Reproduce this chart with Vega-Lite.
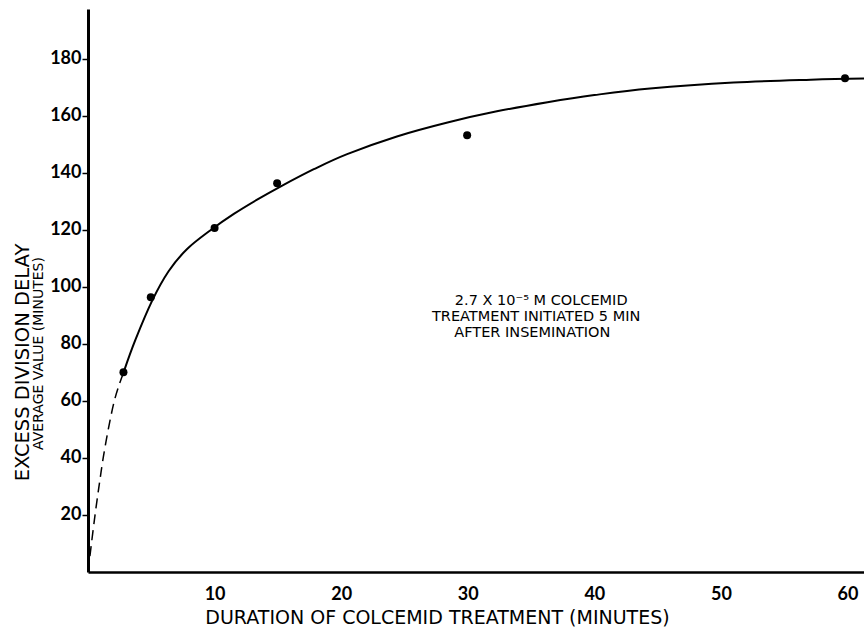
{
  "$schema": "https://vega.github.io/schema/vega-lite/v6.json",
  "width": 776,
  "height": 563,
  "autosize": "none",
  "padding": {"left": 88, "top": 9, "right": 0, "bottom": 56},
  "background": "white",
  "config": {
    "view": {"stroke": null},
    "font": "DejaVu Sans",
    "axis": {"grid": false, "labelColor": "black", "titleColor": "black", "domainColor": "black", "tickColor": "black", "labelFont": "Lato", "titleFont": "DejaVu Sans"}
  },
  "datasets": {
    "points": [
      {"t": 2.8, "delay": 70.1},
      {"t": 4.96, "delay": 96.4},
      {"t": 10, "delay": 120.7},
      {"t": 14.94, "delay": 136.4},
      {"t": 29.95, "delay": 153.2},
      {"t": 59.8, "delay": 173.2}
    ],
    "solid": [
      {"t": 2.83, "delay": 70.3},
      {"t": 3.75, "delay": 81.5},
      {"t": 5.07, "delay": 95.2},
      {"t": 6.38, "delay": 105.6},
      {"t": 7.83, "delay": 113.3},
      {"t": 9.68, "delay": 119.9},
      {"t": 11.52, "delay": 125.6},
      {"t": 13.36, "delay": 130.6},
      {"t": 15.2, "delay": 135.2},
      {"t": 17.84, "delay": 141.3},
      {"t": 20.47, "delay": 146.6},
      {"t": 24.4, "delay": 152.8},
      {"t": 28.4, "delay": 157.7},
      {"t": 32.3, "delay": 161.6},
      {"t": 36.3, "delay": 164.8},
      {"t": 40, "delay": 167.3},
      {"t": 44.4, "delay": 169.6},
      {"t": 51, "delay": 171.7},
      {"t": 57.1, "delay": 172.7},
      {"t": 61.3, "delay": 173.1}
    ],
    "dashed": [
      {"t": 0, "delay": 0},
      {"t": 0.3, "delay": 11},
      {"t": 0.6, "delay": 21.5},
      {"t": 0.9, "delay": 31},
      {"t": 1.2, "delay": 40},
      {"t": 1.6, "delay": 50},
      {"t": 2.05, "delay": 59.5},
      {"t": 2.45, "delay": 65.5},
      {"t": 2.83, "delay": 70.3}
    ],
    "notes": [
      {"t": 35.8, "delay": 94.9, "label": "2.7 X 10⁻⁵ M COLCEMID"},
      {"t": 35.4, "delay": 89.5, "label": "TREATMENT INITIATED  5 MIN"},
      {"t": 35.1, "delay": 84.0, "label": "AFTER INSEMINATION"}
    ]
  },
  "layer": [
    {
      "data": {"name": "dashed"},
      "mark": {"type": "line", "color": "black", "strokeWidth": 1.5, "strokeDash": [10, 6], "interpolate": "cardinal"},
      "encoding": {
        "x": {"field": "t", "type": "quantitative", "scale": {"domain": [0, 61.3], "nice": false, "zero": false},
          "axis": {"values": [10, 20, 30, 40, 50, 60], "tickSize": 0, "labelPadding": 13, "labelFontSize": 18, "labelFontWeight": "bold", "labelFlush": false, "domainWidth": 2.5, "title": "DURATION OF COLCEMID  TREATMENT (MINUTES)", "titleFontSize": 19, "titleFontWeight": "normal", "titleX": 349, "titleY": 45, "titleBaseline": "middle", "titleAlign": "center"}},
        "y": {"field": "delay", "type": "quantitative", "scale": {"domain": [0, 197.5], "nice": false},
          "axis": {"orient": "left", "labels": false, "ticks": false, "domain": false, "title": "AVERAGE VALUE (MINUTES)", "titleFontSize": 14, "titleFontWeight": "normal", "titleX": -50, "titleY": 344, "titleBaseline": "middle", "titleAlign": "center", "titleAngle": -90}}
      }
    },
    {
      "layer": [
        {
          "data": {"name": "solid"},
          "mark": {"type": "line", "color": "black", "strokeWidth": 2, "interpolate": "cardinal"},
          "encoding": {
            "x": {"field": "t", "type": "quantitative"},
            "y": {"field": "delay", "type": "quantitative"}
          }
        },
        {
          "data": {"name": "points"},
          "mark": {"type": "circle", "color": "black", "opacity": 1, "size": 64},
          "encoding": {
            "x": {"field": "t", "type": "quantitative"},
            "y": {"field": "delay", "type": "quantitative"}
          }
        },
        {
          "data": {"name": "notes"},
          "mark": {"type": "text", "align": "center", "baseline": "middle", "fontSize": 14.5, "color": "black", "font": "DejaVu Sans"},
          "encoding": {
            "x": {"field": "t", "type": "quantitative"},
            "y": {"field": "delay", "type": "quantitative"},
            "text": {"field": "label"}
          }
        }
      ],
      "encoding": {
        "x": {"field": "t", "type": "quantitative", "scale": {"domain": [0, 61.3], "nice": false, "zero": false},
          "axis": {"values": [10, 20, 30, 40, 50, 60], "tickSize": 0, "labelPadding": 13, "labelFontSize": 18, "labelFontWeight": "bold", "labelFlush": false, "domainWidth": 2.5, "title": "DURATION OF COLCEMID  TREATMENT (MINUTES)", "titleFontSize": 19, "titleFontWeight": "normal", "titleX": 349, "titleY": 45, "titleBaseline": "middle", "titleAlign": "center"}},
        "y": {"field": "delay", "type": "quantitative", "scale": {"domain": [0, 197.5], "nice": false},
          "axis": {"orient": "left", "values": [20, 40, 60, 80, 100, 120, 140, 160, 180], "tickSize": 6, "tickWidth": 1.5, "labelPadding": 1, "labelFontSize": 18, "labelFontWeight": "bold", "domainWidth": 3, "title": "EXCESS DIVISION DELAY", "titleFontSize": 19.5, "titleFontWeight": "normal", "titleX": -66, "titleY": 353, "titleBaseline": "middle", "titleAlign": "center", "titleAngle": -90}}
      }
    }
  ],
  "resolve": {"scale": {"y": "independent"}, "axis": {"y": "independent"}}
}
